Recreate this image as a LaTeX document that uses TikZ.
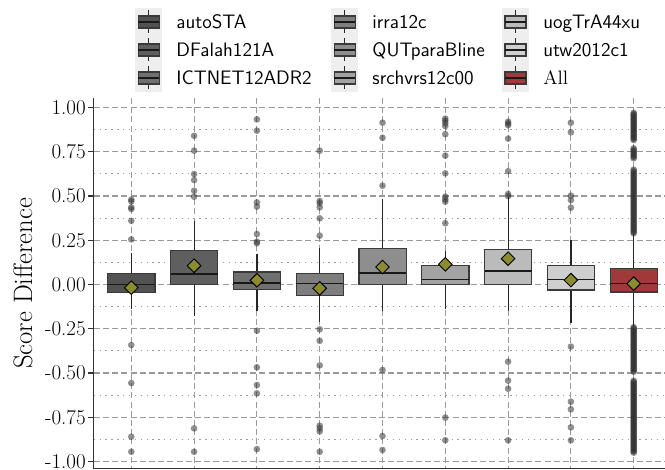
\documentclass[tikz,border=0pt]{standalone}
\usetikzlibrary{shapes.geometric}

\definecolor{spinec}{HTML}{333333}
\definecolor{gridc}{HTML}{9A9A9A}
\definecolor{edgec}{HTML}{3A3A3A}
\definecolor{dotc}{HTML}{333333}
\definecolor{meanc}{HTML}{8B8B30}
\definecolor{legbgc}{HTML}{EEEEEE}
\definecolor{cA}{HTML}{525252}
\definecolor{cB}{HTML}{5F5F5F}
\definecolor{cC}{HTML}{707070}
\definecolor{cD}{HTML}{7E7E7E}
\definecolor{cE}{HTML}{8E8E8E}
\definecolor{cF}{HTML}{A3A3A3}
\definecolor{cG}{HTML}{BBBBBB}
\definecolor{cH}{HTML}{CFCFCF}
\definecolor{cAll}{HTML}{A03A3A}

% one legend entry: name, icon x, row y, fill colour, label
\newcommand\legitem[5]{%
  \node[legbg] (#1bg) at (#2,#3) {};
  \draw[whisk] (#2,#3-11.5) -- (#2,#3+11.5);
  \filldraw[boxst, fill=#4] (#2-10.5,#3-6) rectangle (#2+10.5,#3+6);
  \draw[medst] (#2-10.5,#3) -- (#2+10.5,#3);
  \node[legtext, anchor=base west] (#1) at (#2+27.5,#3+6.7) {#5};
}

\begin{document}
\begin{tikzpicture}[x=0.75pt, y=-0.75pt,
  gridmajor/.style={draw=gridc, line width=0.8pt, dash pattern=on 4.5pt off 2.4pt},
  gridminor/.style={draw=gridc, line width=0.9pt, dash pattern=on 1pt off 3.4pt},
  spine/.style={draw=spinec, line width=1pt},
  whisk/.style={draw=black!85, line width=0.9pt},
  boxst/.style={draw=edgec, line width=0.9pt},
  medst/.style={draw=black!90, line width=1.1pt},
  meanmk/.style={diamond, draw=black, fill=meanc, line width=0.7pt,
    minimum size=10.5pt, inner sep=0pt},
  outl/.style={fill=dotc, fill opacity=0.55},
  ticklab/.style={inner sep=0pt, font=\fontsize{15.75}{18}\selectfont},
  legbg/.style={fill=legbgc, minimum width=20pt, minimum height=20.6pt, inner sep=0pt},
  legtext/.style={inner sep=0pt, font=\fontsize{14.6}{17}\sffamily\selectfont},
]
\useasboundingbox (0,0) rectangle (665,470);

% plotting area: data values on the vertical axis
\begin{scope}[yshift=-213.375pt, y=132.75pt]
  % grid
  \foreach \v in {-1,-0.75,...,1.01}
    \draw[gridmajor] (93.7,\v) -- (665,\v);
  \foreach \v in {-0.875,-0.625,...,0.9}
    \draw[gridminor] (93.7,\v) -- (665,\v);
  \foreach \x in {131.3,194.1,256.9,319.7,382.5,445.3,508.1,570.9,633.7}
    \draw[gridmajor] (\x,1.054) -- (\x,-1.041);

  % outliers
  \foreach \x/\vs in {
    131.3/{0.48,0.47,0.436,0.426,0.36,0.255,-0.342,-0.557,-0.86,-0.945},
    194.1/{0.84,0.756,0.624,0.59,0.53,0.496,-0.813,-0.945},
    256.9/{0.933,0.869,0.464,0.44,0.285,0.242,0.233,-0.261,-0.468,-0.568,-0.615,-0.93},
    319.7/{0.756,0.472,0.459,0.436,0.374,0.276,-0.253,-0.318,-0.457,-0.798,-0.813,-0.83,-0.945},
    382.5/{0.914,0.829,0.558,-0.483,-0.856,-0.935},
    445.3/{0.937,0.925,0.911,0.895,0.849,0.728,0.628,0.496,0.481,0.468,0.346,-0.752,-0.88},
    508.1/{0.92,0.91,0.90,0.824,0.64,0.511,0.499,-0.436,-0.543,-0.589,-0.88},
    570.9/{0.914,0.86,0.502,0.477,0.434,-0.351,-0.662,-0.705,-0.807,-0.88}}
    \foreach \v in \vs
      \fill[outl] (\x,\v) circle (2.5pt);
  % dense outliers of the pooled runs
  \foreach \v in {0.289,0.297,...,0.656, 0.713,0.721,...,0.769, 0.816,0.823,...,0.971,
                  -0.493,-0.486,...,-0.238, -0.95,-0.943,...,-0.54}
    \fill[outl] (633.7,\v) circle (2.5pt);

  % boxes: x / whisker low / q1 / median / q3 / whisker high / mean / fill
  \foreach \x/\lo/\qa/\md/\qb/\hi/\mn/\col [count=\i] in {
    131.3/-0.14/-0.046/0.0/0.063/0.18/-0.018/cA,
    194.1/-0.18/0.0/0.059/0.193/0.36/0.106/cB,
    256.9/-0.148/-0.027/0.008/0.071/0.174/0.024/cC,
    319.7/-0.21/-0.061/0.007/0.063/0.206/-0.022/cD,
    382.5/-0.148/0.0/0.065/0.202/0.485/0.099/cE,
    445.3/-0.14/0.0/0.029/0.108/0.187/0.114/cF,
    508.1/-0.148/0.0/0.076/0.199/0.496/0.146/cG,
    570.9/-0.216/-0.031/0.029/0.106/0.251/0.025/cH,
    633.7/-0.238/-0.042/0.007/0.091/0.289/0.005/cAll} {
    \coordinate (wt\i) at (\x,\hi);
    \coordinate (wb\i) at (\x,\lo);
    \coordinate (bt\i) at (\x,\qb);
    \coordinate (bb\i) at (\x,\qa);
    \draw[whisk] (wt\i) -- (bt\i);
    \draw[whisk] (bb\i) -- (wb\i);
    \filldraw[boxst, fill=\col] (\x-23.6,\qa) rectangle (\x+23.6,\qb);
    \draw[medst] (\x-23.6,\md) -- (\x+23.6,\md);
    \node[meanmk] (mean\i) at (\x,\mn) {};
  }

  % axes
  \draw[spine] (93.7,1.054) -- (93.7,-1.041) -- (665,-1.041);
  \foreach \v/\lab [count=\i] in {1/1.00,0.75/0.75,0.5/0.50,0.25/0.25,0/0.00,
      -0.25/-0.25,-0.5/-0.50,-0.75/-0.75,-1/-1.00} {
    \draw[spine] (88.3,\v) -- (93.7,\v);
    \node[ticklab, anchor=east] (tick\i) at (86,\v) {\lab};
  }
\end{scope}

\node[rotate=90, inner sep=0pt, font=\fontsize{20}{23}\selectfont]
  (ylab) at (23,283.5) {Score Difference};

% legend
\legitem{lgA}{148.7}{22}{cA}{autoSTA}
\legitem{lgB}{148.7}{50}{cB}{DFalah121A}
\legitem{lgC}{148.7}{78}{cC}{ICTNET12ADR2}
\legitem{lgD}{344.7}{22}{cD}{irra12c}
\legitem{lgE}{344.7}{50}{cE}{QUTparaBline}
\legitem{lgF}{344.7}{78}{cF}{srchvrs12c00}
\legitem{lgG}{515.5}{22}{cG}{uogTrA44xu}
\legitem{lgH}{515.5}{50}{cH}{utw2012c1}
\legitem{lgAll}{515.5}{78}{cAll}{\rmfamily All}
\end{tikzpicture}
\end{document}
